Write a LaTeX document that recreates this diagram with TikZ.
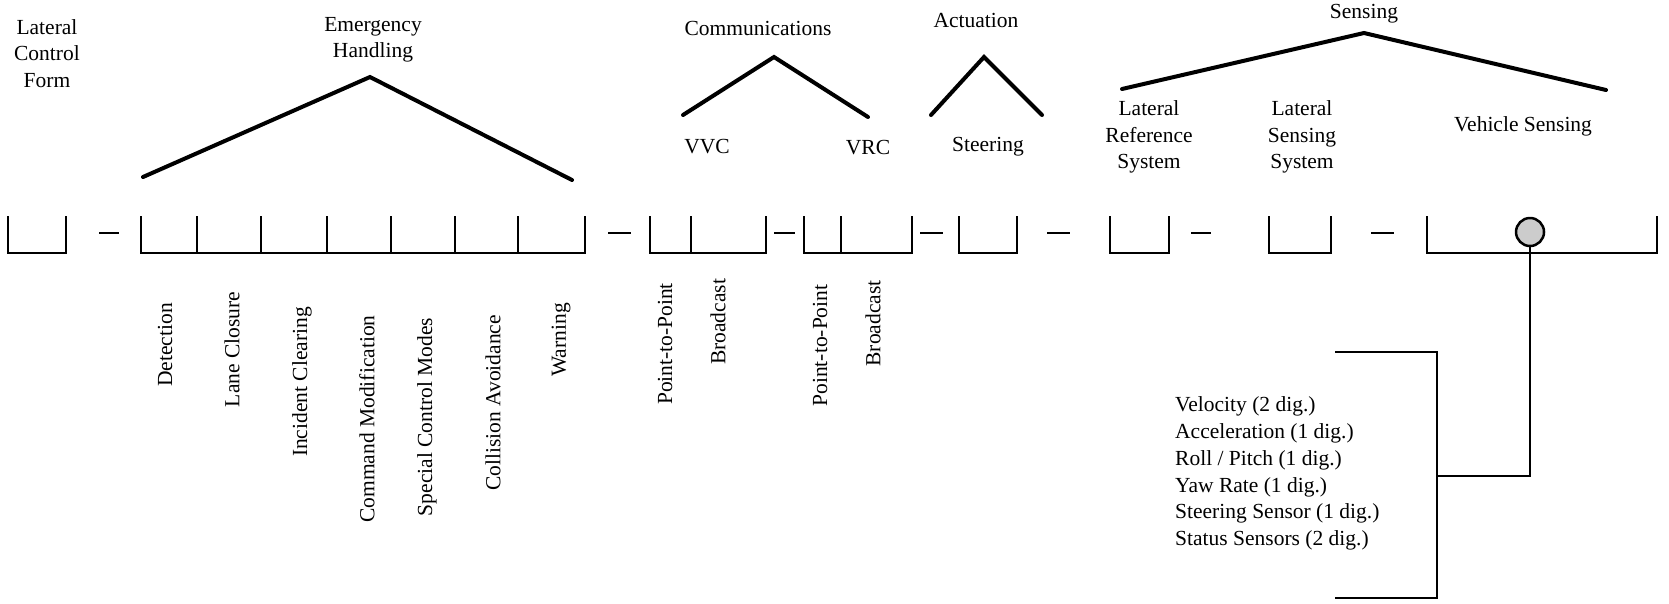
\documentclass[tikz,border=0pt]{standalone}
\usepackage{fontspec}
\setmainfont{Liberation Serif}
\begin{document}
\begin{tikzpicture}[x=1pt,y=-1pt,
  lbl/.style={font=\fontsize{21.5}{26.5}\selectfont, inner sep=0pt, align=center},
  vlbl/.style={lbl, rotate=90},
  wedge/.style={line width=4pt, line join=miter, line cap=round},
  tray/.style={line width=2pt},
  dashmark/.style={line width=2.2pt},
  bracket/.style={line width=2.6pt}]
\useasboundingbox (0,0) rectangle (1669,603);

% ---- group headings ----
\node[lbl] (lcf) at (47,53.5) {Lateral\\Control\\Form};
\node[lbl] (emh) at (373,40) {Emergency\\Handling};
\node[lbl] (com) at (758,28) {Communications};
\node[lbl] (act) at (976,20) {Actuation};
\node[lbl] (sen) at (1364,14) {Sensing};

% ---- sub headings ----
\node[lbl] (vvc) at (707,147) {VVC};
\node[lbl] (vrc) at (868,148) {VRC};
\node[lbl] (str) at (988,147) {Steering};
\node[lbl] (lrs) at (1149,137) {Lateral\\Reference\\System};
\node[lbl] (lss) at (1302,137) {Lateral\\Sensing\\System};
\node[lbl] (vsn) at (1523,126) {Vehicle Sensing};

% ---- branching wedges ----
\draw[wedge] (143,177) -- (370,77) -- (572,180);
\draw[wedge] (683,115) -- (774,57) -- (868,117);
\draw[wedge] (931,115) -- (984,57) -- (1042,115);
\draw[wedge] (1122,89) -- (1364,33) -- (1606,90);

% ---- field trays ----
\def\ttop{216}
\def\tbot{253}
\foreach \l/\r in {8/66, 141/585, 650/766, 804/912, 959/1017, 1110/1169, 1269/1331, 1427/1657}
  \draw[tray] (\l,\ttop) -- (\l,\tbot) -- (\r,\tbot) -- (\r,\ttop);
\foreach \d in {196.5, 261, 327, 391, 455, 518, 691, 841}
  \draw[tray] (\d,\ttop) -- (\d,\tbot+1);

% ---- separators between trays ----
\foreach \a/\b in {99/119, 608/631, 774/795, 920/943, 1047/1070, 1191/1211, 1371/1394}
  \draw[dashmark] (\a,233) -- (\b,233);

% ---- field labels ----
\node[vlbl] (det) at (165,345) {Detection};
\node[vlbl] (lcl) at (232,349.5) {Lane Closure};
\node[vlbl] (icl) at (302,382) {Incident Clearing};
\node[vlbl] (cmd) at (367,419) {Command Modification};
\node[vlbl] (scm) at (427,417) {Special Control Modes};
\node[vlbl] (cav) at (493,403) {Collision Avoidance};
\node[vlbl] (wrn) at (561,340) {Warning};
\node[vlbl] (pp1) at (665,344) {Point-to-Point};
\node[vlbl] (bc1) at (718,322) {Broadcast};
\node[vlbl] (pp2) at (820,345.5) {Point-to-Point};
\node[vlbl] (bc2) at (873,323.5) {Broadcast};

% ---- vehicle sensing detail ----
\node[circle, draw, line width=2.5pt, fill=gray!40, minimum size=28pt, inner sep=0pt] (vsc) at (1530,232) {};
\coordinate (brk) at (1437,476);
\draw[line width=2pt] (vsc.south) |- (brk);
\draw[bracket] (1335,352) -- (1437,352) -- (1437,598) -- (1335,598);
\node[lbl, align=left, anchor=west, font=\fontsize{21.5}{26.7}\selectfont] (vsl) at (1175,473.5)
  {Velocity (2 dig.)\\Acceleration (1 dig.)\\Roll / Pitch (1 dig.)\\Yaw Rate (1 dig.)\\Steering Sensor (1 dig.)\\Status Sensors (2 dig.)};
\end{tikzpicture}
\end{document}
